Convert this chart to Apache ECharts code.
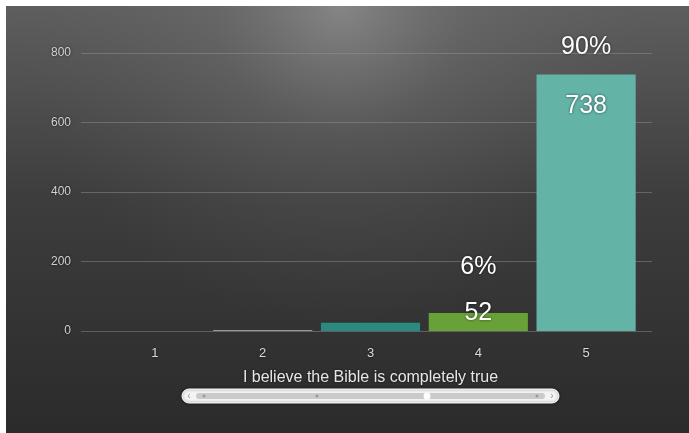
<!DOCTYPE html>
<html><head><meta charset="utf-8">
<script src="https://cdn.jsdelivr.net/npm/echarts@6/dist/echarts.min.js"></script>
<style>html,body{margin:0;padding:0;background:#fff}#c{width:689px;height:433px}</style>
</head><body><div id="c"></div>
<script>
var categories = ['1','2','3','4','5'];
var counts = [0, 3, 24, 52, 738];
var percentLabels = ['', '', '', '6%', '90%'];
var yTicks = [0, 200, 400, 600, 800];
var axisTitle = 'I believe the Bible is completely true';

var barColors = ['#888888', '#9a9a9a', '#2b8a7f', '#68a138', '#63b4a7'];
var valueLabelShow = [false, false, false, true, true];
var valueLabelPos = ['top','top','top','top','insideTop'];
var valueLabelOffset = [[0,0],[0,0],[0,0],[0,18],[0,14]];
var pctLabelOffset = [[0,0],[0,0],[0,0],[0,-28],[0,-10]];

var chart = echarts.init(document.getElementById('c'), null, {renderer:'canvas'});
var W = 689, H = 433;
var textShadow = {textShadowColor:'rgba(0,0,0,0.6)', textShadowBlur:3};

var option = {
  animation: false,
  backgroundColor: '#ffffff',
  graphic: [
    {type:'rect', z:-100, silent:true, shape:{x:6,y:6,width:W-6,height:H-6},
     style:{fill:new echarts.graphic.LinearGradient(0, 0, 0, 1, [
       {offset:0, color:'#5e5e5e'},
       {offset:0.45, color:'#3d3d3d'},
       {offset:1, color:'#2b2b2b'}])}},
    {type:'rect', z:-99, silent:true, shape:{x:6,y:6,width:W-6,height:H-6},
     style:{fill:new echarts.graphic.RadialGradient(0.49, 0, 0.75, [
       {offset:0, color:'rgba(150,150,150,0.7)'},
       {offset:0.4, color:'rgba(125,125,125,0.28)'},
       {offset:1, color:'rgba(100,100,100,0)'}])}},
    {type:'rect', z:10, silent:true, shape:{x:182,y:389,width:377,height:14,r:7},
     style:{fill:'#f4f4f4', stroke:'#ffffff', lineWidth:1, shadowColor:'rgba(0,0,0,0.5)', shadowBlur:3}},
    {type:'rect', z:11, silent:true, shape:{x:196,y:393,width:349,height:6,r:3},
     style:{fill:'#cacaca'}},
    {type:'circle', z:12, silent:true, shape:{cx:427,cy:396,r:3.5}, style:{fill:'#ffffff'}},
    {type:'circle', z:12, silent:true, shape:{cx:317,cy:396,r:1.5}, style:{fill:'#9a9a9a'}},
    {type:'circle', z:12, silent:true, shape:{cx:204,cy:396,r:1.5}, style:{fill:'#9a9a9a'}},
    {type:'circle', z:12, silent:true, shape:{cx:537,cy:396,r:1.5}, style:{fill:'#9a9a9a'}},
    {type:'text', z:12, silent:true, style:{x:189,y:396,text:'‹',fill:'#999',font:'10px Arial',textAlign:'center',textVerticalAlign:'middle'}},
    {type:'text', z:12, silent:true, style:{x:552,y:396,text:'›',fill:'#999',font:'10px Arial',textAlign:'center',textVerticalAlign:'middle'}}
  ],
  grid: [
    {left:81, right:37, top:53, bottom:H-331},
    {left:101, right:49, top:53, bottom:H-331}
  ],
  xAxis: [
    {gridIndex:0, type:'value', show:false, min:0, max:1},
    {gridIndex:1, type:'category', data:categories,
     axisLine:{show:false}, axisTick:{show:false},
     axisLabel:Object.assign({color:'#d8d8d8', fontSize:13, fontFamily:'Arial', margin:16}, textShadow),
     name: axisTitle, nameLocation:'middle', nameGap:39,
     nameTextStyle:Object.assign({color:'#e6e6e6', fontSize:16, fontFamily:'Arial'}, textShadow)}
  ],
  yAxis: [
    {gridIndex:0, type:'value', min:yTicks[0], max:yTicks[yTicks.length-1], interval:yTicks[1]-yTicks[0],
     axisLine:{show:false}, axisTick:{show:false},
     axisLabel:Object.assign({color:'#d0d0d0', fontSize:12, fontFamily:'Arial', margin:10}, textShadow),
     splitLine:{lineStyle:{color:'rgba(150,150,150,0.45)', width:1}}},
    {gridIndex:1, type:'value', min:yTicks[0], max:yTicks[yTicks.length-1], show:false, splitLine:{show:false}}
  ],
  series: [
    {type:'bar', xAxisIndex:1, yAxisIndex:1, barCategoryGap:'8%', barGap:'-100%', z:3,
     data: counts.map(function(v,i){
       return {value:v, itemStyle:{color:barColors[i]},
         label:{show:valueLabelShow[i], position:valueLabelPos[i], offset:valueLabelOffset[i]}};
     }),
     label:Object.assign({color:'#ffffff', fontSize:25, fontFamily:'Arial'}, textShadow)},
    {type:'bar', xAxisIndex:1, yAxisIndex:1, barCategoryGap:'8%', barGap:'-100%', z:4,
     itemStyle:{color:'rgba(0,0,0,0)'},
     data: counts.map(function(v,i){
       return {value:v, label:{show:percentLabels[i]!=='', position:'top', offset:pctLabelOffset[i]}};
     }),
     label:Object.assign({color:'#ffffff', fontSize:25, fontFamily:'Arial',
       formatter:function(p){return percentLabels[p.dataIndex];}}, textShadow)}
  ]
};
chart.setOption(option);
</script>
</body></html>
